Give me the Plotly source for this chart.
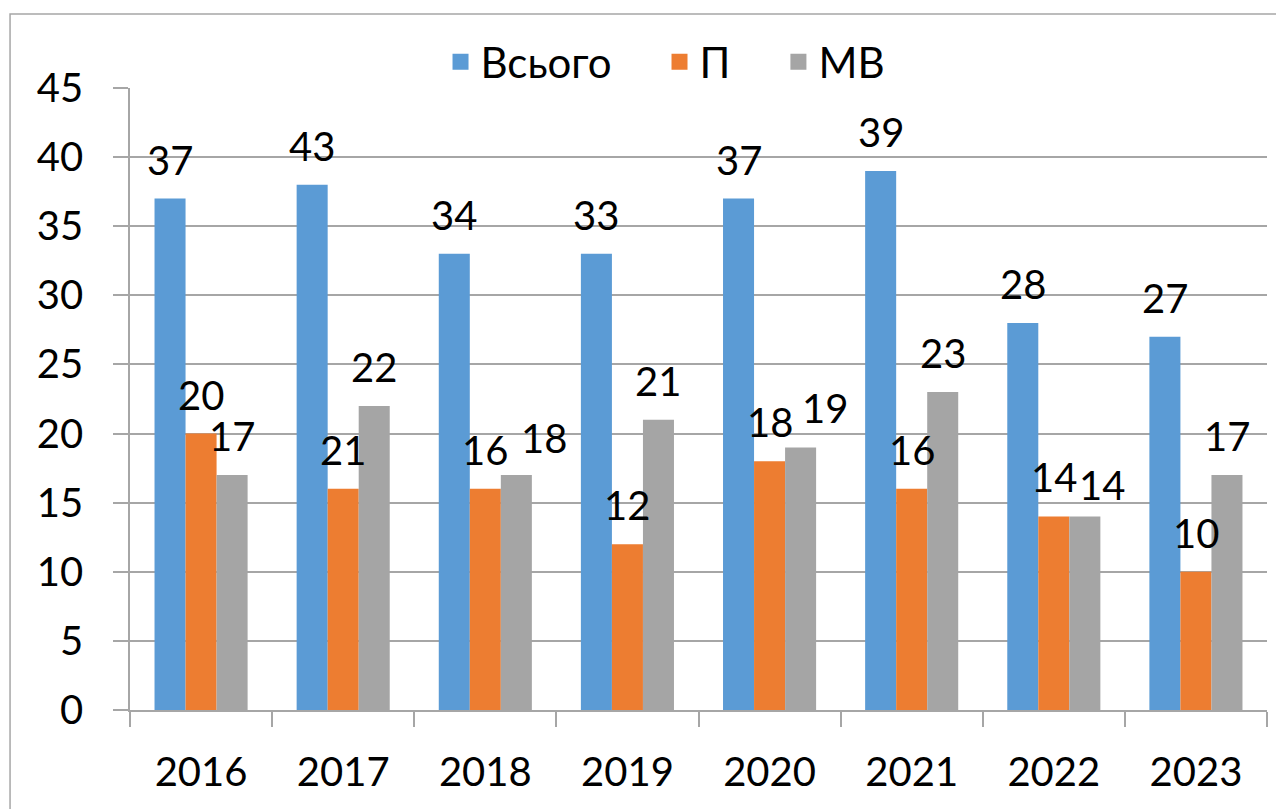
import plotly.graph_objects as go

years = ["2016", "2017", "2018", "2019", "2020", "2021", "2022", "2023"]
series_names = ["Всього", "П", "МВ"]
total_heights = [37, 38, 33, 33, 37, 39, 28, 27]
total_labels = [37, 43, 34, 33, 37, 39, 28, 27]
p_heights = [20, 16, 16, 12, 18, 16, 14, 10]
p_labels = [20, 21, 16, 12, 18, 16, 14, 10]
mv_heights = [17, 22, 17, 21, 19, 23, 14, 17]
mv_labels = [17, 22, 18, 21, 19, 23, 14, 17]
colors = ["#5B9BD5", "#ED7D31", "#A5A5A5"]
y_ticks = [0, 5, 10, 15, 20, 25, 30, 35, 40, 45]

# nudges (px) of data labels, as placed in the original chart
total_label_dx = [0, 0, 0, 0, 0, 0, 0, 0]
p_label_dx = [0, 0, 0, 0, 0, 0, 0, 0]
mv_label_dx = [0, 0, 28, 0, 24, 0, 17, 0]
mv_label_dy = [0, 0, -2, 0, 0, 0, -8, 0]

FONT = "Lato, 'Open Sans', 'Noto Sans', sans-serif"
GRID = "#A6A6A6"
BARGAP = 0.345
LABEL_RISE = 39

heights = [total_heights, p_heights, mv_heights]
labels = [total_labels, p_labels, mv_labels]
label_dx = [total_label_dx, p_label_dx, mv_label_dx]
label_dy = [[0] * len(years), [0] * len(years), mv_label_dy]
legend_pad = ["\u00a0\u00a0\u00a0\u00a0", "\u00a0\u00a0\u00a0\u00a0", ""]

fig = go.Figure()
for i, name in enumerate(series_names):
    fig.add_trace(go.Bar(
        x=years, y=heights[i], name=name, offsetgroup=str(i),
        marker=dict(color=colors[i], line=dict(width=0)), showlegend=False,
    ))
for i, name in enumerate(series_names):
    fig.add_trace(go.Scatter(
        x=[None], y=[None], name=name + legend_pad[i], mode="markers",
        marker=dict(symbol="square", size=16, color=colors[i]),
        showlegend=True, hoverinfo="skip",
    ))

# data labels: placed over each bar using the category-index scale of the x axis
n_series = len(series_names)
bar_w = (1 - BARGAP) / n_series
for k in range(n_series):
    for j in range(len(years)):
        fig.add_annotation(
            x=j + (k - (n_series - 1) / 2) * bar_w, y=heights[k][j],
            xref="x", yref="y", text=str(labels[k][j]), showarrow=False,
            xanchor="center", yanchor="middle",
            yshift=LABEL_RISE + label_dy[k][j], xshift=label_dx[k][j],
            font=dict(family=FONT, size=40, color="#000000"),
        )

fig.update_layout(
    width=1284, height=809,
    margin=dict(l=122, r=25, t=80, b=107, autoexpand=False),
    paper_bgcolor="white", plot_bgcolor="white",
    barmode="group", bargap=BARGAP, bargroupgap=0,
    font=dict(family=FONT, size=40, color="#000000"),
    legend=dict(
        orientation="h", x=0.471, y=1.042, xanchor="center", yanchor="middle",
        font=dict(family=FONT, size=42), bgcolor="rgba(0,0,0,0)",
        itemwidth=30,
    ),
    showlegend=True,
)
fig.update_xaxes(
    type="category", showgrid=False, showline=True, linecolor=GRID, linewidth=1.5,
    ticks="outside", tickson="boundaries", ticklen=15, tickcolor=GRID, tickwidth=1.5,
    ticklabelstandoff=26, tickfont=dict(family=FONT, size=40), automargin=False,
)
fig.update_yaxes(
    range=[0, 45], tickvals=y_ticks, showgrid=True, gridcolor=GRID, gridwidth=1.5,
    showline=True, linecolor=GRID, linewidth=1.5, zeroline=False,
    ticks="outside", ticklen=15, tickcolor=GRID, tickwidth=1.5,
    ticklabelstandoff=22, tickfont=dict(family=FONT, size=40), automargin=False,
)
fig.add_shape(
    type="rect", xref="paper", yref="paper",
    x0=-0.1055, x1=1.014, y0=-0.17, y1=1.119,
    line=dict(color=GRID, width=1.5), fillcolor="rgba(0,0,0,0)", layer="below",
)

fig.write_html("out.html")
